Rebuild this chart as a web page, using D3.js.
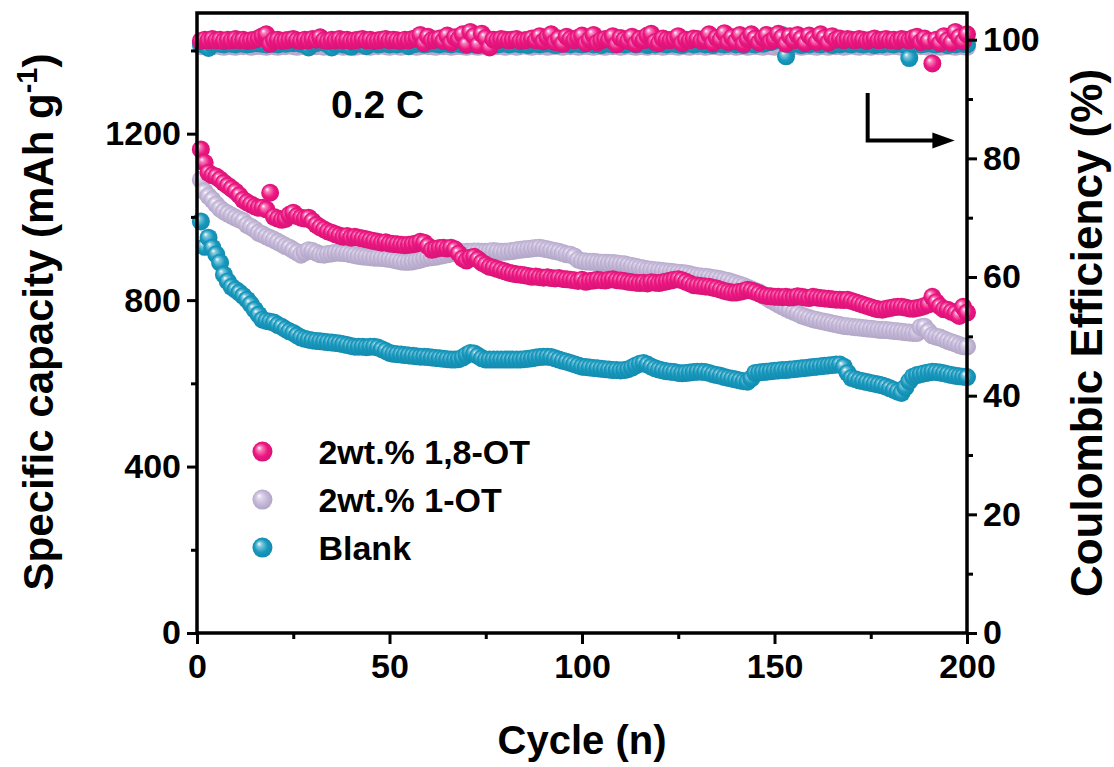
<!DOCTYPE html>
<html>
<head>
<meta charset="utf-8">
<script src="https://cdn.jsdelivr.net/npm/d3@7"></script>
<style>
  body { margin: 0; background: #fff; }
  svg text { font-family: "Liberation Sans", Arial, sans-serif; font-weight: bold; fill: #000; }
</style>
</head>
<body>
<svg id="chart" width="1114" height="767"></svg>
<script>
// capacity (mAh/g), cycles 1..200
const capOT18 = [
  1162,1130,1106,1100,1097,1090,1082,1075,1068,1061,
  1052,1041,1035,1030,1025,1022,1022,1018,1058,1000,
  996,993,995,1005,1010,1002,998,996,998,990,
  981,975,970,965,962,958,955,952,954,950,
  952,950,948,946,944,942,940,938,939,936,
  935,934,933,932,933,934,936,940,938,930,
  921,923,925,926,924,926,922,912,900,895,
  902,904,898,890,885,880,878,875,872,869,
  866,864,862,861,860,858,856,857,855,854,
  855,853,852,853,851,850,849,848,846,849,
  844,846,847,849,848,847,849,850,848,847,
  846,844,843,842,841,842,840,843,842,841,
  843,845,847,849,850,848,844,840,836,835,
  834,833,832,830,828,825,822,820,818,818,
  820,822,825,823,820,816,812,810,809,808,
  808,807,808,806,807,809,808,806,805,808,
  806,805,804,803,802,801,801,800,801,798,
  795,792,789,786,783,780,778,777,779,781,
  783,784,784,782,780,779,781,783,786,790,
  808,795,785,778,777,772,768,762,784,770
];
const capOT1 = [
  1089,1061,1050,1041,1030,1020,1013,1008,1003,998,
  994,990,981,976,970,962,958,953,949,945,
  940,935,930,926,920,915,909,915,920,918,
  914,910,909,911,912,914,914,913,912,910,
  908,906,905,904,903,902,902,901,900,899,
  897,895,893,892,892,893,895,897,900,902,
  903,904,906,908,910,912,913,914,915,916,
  916,917,917,916,916,917,918,917,916,916,
  917,918,920,921,922,923,924,925,926,924,
  922,920,918,916,913,910,909,905,897,894,
  893,892,892,891,890,890,889,889,888,887,
  886,884,882,880,878,876,874,873,872,871,
  870,869,868,867,866,865,864,862,860,858,
  857,856,855,853,852,850,848,846,843,840,
  837,834,830,826,822,818,812,806,800,795,
  790,785,780,776,772,768,763,760,757,754,
  752,750,748,746,744,742,740,738,737,736,
  735,734,733,732,731,730,729,728,728,727,
  726,725,724,723,722,721,721,735,736,725,
  715,712,710,706,702,699,696,692,689,688
];
const capBlank = [
  989,928,950,926,910,890,861,845,832,825,
  818,810,801,790,777,765,753,750,748,746,
  740,736,730,725,721,715,710,707,705,703,
  702,701,700,699,698,697,696,694,692,690,
  688,688,688,687,688,688,686,682,678,673,
  671,670,669,668,667,666,665,664,664,663,
  662,661,660,659,658,657,657,658,662,668,
  673,672,666,660,657,657,657,657,657,657,
  657,657,657,657,658,659,660,662,663,664,
  664,663,660,657,654,652,649,646,643,640,
  639,638,637,636,635,634,633,632,632,631,
  632,634,638,643,647,649,645,640,636,633,
  631,629,628,627,625,624,625,626,627,628,
  628,627,625,622,620,618,615,613,611,609,
  607,605,604,612,625,626,627,628,629,630,
  631,632,632,633,634,635,636,637,638,639,
  640,641,642,643,644,645,645,640,625,613,
  610,607,605,603,601,599,597,595,592,588,
  584,580,577,590,605,616,620,622,624,626,
  628,627,626,624,622,620,618,617,616,615
];

// coulombic efficiency (%), cycles 1..200
const ceOT18 = [
  99.8,100.0,99.9,100.1,99.9,100.0,99.8,100.0,99.9,100.1,
  99.9,100.0,99.8,99.9,100.0,100.2,100.6,100.9,99.3,99.9,
  100.0,99.8,99.9,100.0,100.1,99.9,99.8,100.0,99.9,100.1,
  100.0,100.4,99.9,99.8,100.0,99.9,100.1,99.9,100.0,99.8,
  99.9,100.0,100.1,99.9,100.0,99.8,99.9,100.0,100.1,99.9,
  100.0,99.9,99.8,100.0,99.9,100.1,100.3,100.8,99.4,100.5,
  99.9,100.0,100.2,99.8,100.7,99.5,100.4,100.1,100.9,99.2,
  101.3,100.6,99.1,101.0,100.3,98.7,100.0,99.9,100.1,100.0,
  99.9,100.0,100.1,99.8,99.9,100.0,100.2,99.9,100.6,99.7,
  100.4,100.9,99.6,100.2,99.3,100.5,100.1,99.9,100.3,100.7,
  99.4,100.0,100.8,99.5,99.9,100.1,100.0,100.6,99.2,100.3,
  100.0,99.8,100.5,99.3,100.1,99.9,100.7,101.0,99.6,99.4,
  100.2,100.0,99.9,100.1,100.6,99.4,100.0,99.9,100.2,100.1,
  99.8,100.0,100.9,99.4,100.3,100.0,101.1,99.6,100.4,99.7,
  100.8,99.3,100.1,100.9,100.2,99.5,100.3,100.8,99.7,100.1,
  101.0,100.4,99.3,100.6,99.9,100.8,100.2,99.4,100.7,100.1,
  99.6,100.9,100.3,99.5,100.6,100.0,100.2,99.9,100.1,100.0,
  99.9,100.1,100.0,99.8,100.0,100.2,99.9,100.0,100.1,99.9,
  100.0,99.8,100.1,100.0,99.9,100.3,100.5,99.6,100.2,99.8,
  96.0,100.0,99.4,100.6,99.9,99.5,101.3,100.4,99.7,100.9
];
const ceOT1 = [
  98.9,99.0,98.8,98.9,99.1,98.9,98.8,99.0,98.9,98.8,
  99.0,98.9,99.1,98.8,98.9,99.0,98.9,98.8,99.0,98.9,
  98.8,99.0,98.9,99.1,98.9,98.8,99.0,98.9,98.8,99.0,
  98.9,99.0,98.8,98.9,99.0,98.9,99.1,98.8,98.9,99.0,
  98.8,98.9,99.0,98.9,98.8,99.0,98.9,99.1,98.9,98.8,
  99.0,98.9,98.8,99.0,98.9,99.0,98.8,98.9,99.1,98.9,
  98.9,98.8,99.0,98.9,99.0,98.8,98.9,99.0,98.9,98.8,
  99.1,98.9,98.8,99.0,98.9,98.8,99.0,98.9,99.0,98.8,
  98.9,99.0,98.8,98.9,99.1,98.9,98.8,99.0,98.9,99.0,
  98.8,98.9,99.0,98.9,98.8,99.0,98.9,99.1,98.8,98.9,
  99.0,98.9,98.8,99.0,98.9,98.8,99.0,98.9,99.0,98.8,
  98.9,99.1,98.9,98.8,99.0,98.9,98.8,99.0,98.9,99.0,
  98.8,98.9,99.0,98.9,98.8,99.1,98.9,98.8,99.0,98.9,
  99.0,98.8,98.9,99.0,98.9,98.8,99.0,98.9,99.1,98.8,
  98.9,99.0,98.8,98.9,99.0,98.9,98.8,99.0,98.9,98.8,
  99.0,98.9,98.8,99.0,98.9,99.1,98.8,98.9,99.0,98.9,
  98.8,99.0,98.9,98.8,99.0,98.9,99.0,98.8,98.9,99.1,
  98.9,98.8,99.0,98.9,98.8,99.0,98.9,99.0,98.8,98.9,
  99.0,98.9,98.8,99.0,98.9,98.8,99.1,98.9,99.0,98.8,
  98.9,99.0,98.8,98.9,99.0,98.9,98.8,99.0,98.9,98.8
];
const ceBlank = [
  99.3,99.1,98.6,99.2,99.4,99.3,99.2,99.4,99.3,99.2,
  99.4,99.3,99.2,99.3,99.5,99.4,99.3,99.2,99.4,99.3,
  99.2,99.4,99.3,99.5,99.4,99.6,99.3,99.2,98.7,99.3,
  99.4,99.6,99.5,99.2,98.7,99.3,99.4,99.2,99.3,98.8,
  99.3,99.4,99.2,98.9,99.3,99.4,99.2,99.3,99.4,99.2,
  99.3,99.2,99.4,99.3,98.9,99.2,99.3,99.4,99.2,99.3,
  99.4,99.3,99.2,99.4,99.3,99.2,99.4,99.3,99.2,99.1,
  99.3,99.2,99.3,99.4,99.1,99.3,99.4,99.2,99.3,99.4,
  99.2,99.3,99.4,99.2,99.3,99.1,99.4,99.3,99.2,99.3,
  99.4,99.3,99.1,99.2,99.4,99.3,99.2,99.4,99.3,99.2,
  99.3,99.4,99.2,99.3,99.1,99.4,99.3,99.2,99.4,99.3,
  99.2,99.3,99.4,99.2,99.3,99.4,99.1,99.3,99.2,99.4,
  99.3,99.2,99.4,99.3,99.2,99.1,99.3,99.4,99.2,99.3,
  99.4,99.2,99.3,99.1,99.4,99.3,99.2,99.3,99.4,99.2,
  99.3,99.1,99.4,99.3,99.2,99.4,99.3,99.5,99.6,99.8,
  100.3,100.8,97.2,99.2,99.3,99.4,99.1,99.3,99.2,99.4,
  99.3,99.2,99.4,99.3,99.1,99.3,99.2,99.4,99.3,99.2,
  99.4,99.3,99.2,99.3,99.4,99.1,99.3,99.2,99.4,99.3,
  99.2,99.4,99.3,99.1,96.9,99.3,99.4,99.2,99.3,99.4,
  99.3,99.2,99.4,99.3,99.1,99.3,99.2,99.4,99.3,99.2
];

const seriesNames = ['2wt.% 1,8-OT', '2wt.% 1-OT', 'Blank'];
const seriesColors = ['#ee1682', '#c4b7d9', '#1699bf'];
const xTicks = [0, 50, 100, 150, 200];
const yLeftTicks = [0, 400, 800, 1200];
const yRightTicks = [0, 20, 40, 60, 80, 100];

const W = 1114, H = 767;
const margin = { top: 13, right: 147, bottom: 134, left: 197 };
const w = W - margin.left - margin.right;
const h = H - margin.top - margin.bottom;

const svg = d3.select('#chart');

// sphere gradients
const defs = svg.append('defs');
seriesColors.forEach((c, i) => {
  const g = defs.append('radialGradient')
    .attr('id', 'ball' + i)
    .attr('cx', '50%').attr('cy', '50%').attr('r', '55%')
    .attr('fx', '32%').attr('fy', '30%');
  g.append('stop').attr('offset', '0%').attr('stop-color', '#ffffff');
  g.append('stop').attr('offset', '22%').attr('stop-color', d3.interpolateRgb(c, '#fff')(0.45));
  g.append('stop').attr('offset', '60%').attr('stop-color', c);
  g.append('stop').attr('offset', '100%').attr('stop-color', d3.color(c).darker(0.35));
});

const plot = svg.append('g').attr('transform', `translate(${margin.left},${margin.top})`);

const x = d3.scaleLinear().domain([0, 200]).range([0, w]);
const yL = d3.scaleLinear().domain([0, 1490]).range([h, 0]);
const yR = d3.scaleLinear().domain([0, 104.5]).range([h, 0]);

const capSeries = [capOT18, capOT1, capBlank];
const ceSeries = [ceOT18, ceOT1, ceBlank];
const drawOrder = [1, 2, 0];

drawOrder.forEach(k => {
  plot.append('g').selectAll('circle')
    .data(ceSeries[k])
    .enter().append('circle')
    .attr('cx', (d, i) => x(i + 1))
    .attr('cy', d => yR(d))
    .attr('r', 9)
    .attr('fill', `url(#ball${k})`);
});
drawOrder.forEach(k => {
  plot.append('g').selectAll('circle')
    .data(capSeries[k])
    .enter().append('circle')
    .attr('cx', (d, i) => x(i + 1))
    .attr('cy', d => yL(d))
    .attr('r', 9)
    .attr('fill', `url(#ball${k})`);
});

// axes
function styleAxis(g) {
  g.select('.domain').remove();
  g.selectAll('line').attr('stroke', '#000').attr('stroke-width', 3);
  g.selectAll('text').attr('font-size', 34);
}

plot.append('g').attr('transform', `translate(0,${h})`)
  .call(d3.axisBottom(x).tickValues(xTicks).tickSize(11).tickPadding(10))
  .call(styleAxis);
plot.append('g').attr('transform', `translate(0,${h})`)
  .call(d3.axisBottom(x).tickValues([25, 75, 125, 175]).tickSize(6).tickFormat(''))
  .call(styleAxis);

plot.append('g')
  .call(d3.axisLeft(yL).tickValues(yLeftTicks).tickSize(10).tickPadding(6).tickFormat(d3.format('d')))
  .call(styleAxis);
plot.append('g')
  .call(d3.axisLeft(yL).tickValues([200, 600, 1000, 1400]).tickSize(6).tickFormat(''))
  .call(styleAxis);

plot.append('g').attr('transform', `translate(${w},0)`)
  .call(d3.axisRight(yR).tickValues(yRightTicks).tickSize(10).tickPadding(6))
  .call(styleAxis);
plot.append('g').attr('transform', `translate(${w},0)`)
  .call(d3.axisRight(yR).tickValues([10, 30, 50, 70, 90]).tickSize(6).tickFormat(''))
  .call(styleAxis);

// frame
plot.append('rect')
  .attr('width', w).attr('height', h)
  .attr('fill', 'none').attr('stroke', '#000').attr('stroke-width', 3.5);

// axis titles
svg.append('text')
  .attr('x', margin.left + w / 2).attr('y', 754)
  .attr('text-anchor', 'middle').attr('font-size', 40)
  .text('Cycle (n)');

const yt = svg.append('text')
  .attr('transform', `translate(53,322) rotate(-90)`)
  .attr('text-anchor', 'middle').attr('font-size', 42);
yt.append('tspan').text('Specific capacity (mAh g');
yt.append('tspan').attr('dy', -16).attr('font-size', 29).text('-1');
yt.append('tspan').attr('dy', 16).text(')');

svg.append('text')
  .attr('transform', `translate(1102,333) rotate(-90)`)
  .attr('text-anchor', 'middle').attr('font-size', 44)
  .text('Coulombic Efficiency (%)');

// rate label
plot.append('text')
  .attr('x', x(34.8)).attr('y', 105)
  .attr('font-size', 39)
  .text('0.2 C');

// arrow pointing to right axis
plot.append('path')
  .attr('d', `M${x(174.2)},${yR(91)} V${yR(83)} H${x(192)}`)
  .attr('fill', 'none').attr('stroke', '#000').attr('stroke-width', 4);
plot.append('path')
  .attr('d', `M${x(191)},${yR(83) - 8} L${x(196.8)},${yR(83)} L${x(191)},${yR(83) + 8} Z`)
  .attr('fill', '#000');

// legend
const legend = plot.append('g').attr('transform', `translate(${x(17)},${yL(436)})`);
seriesNames.forEach((name, i) => {
  const row = legend.append('g').attr('transform', `translate(0,${i * 48})`);
  row.append('circle').attr('r', 10).attr('fill', `url(#ball${i})`);
  row.append('text').attr('x', 56).attr('y', 12).attr('font-size', 34).text(name);
});
</script>
</body>
</html>
